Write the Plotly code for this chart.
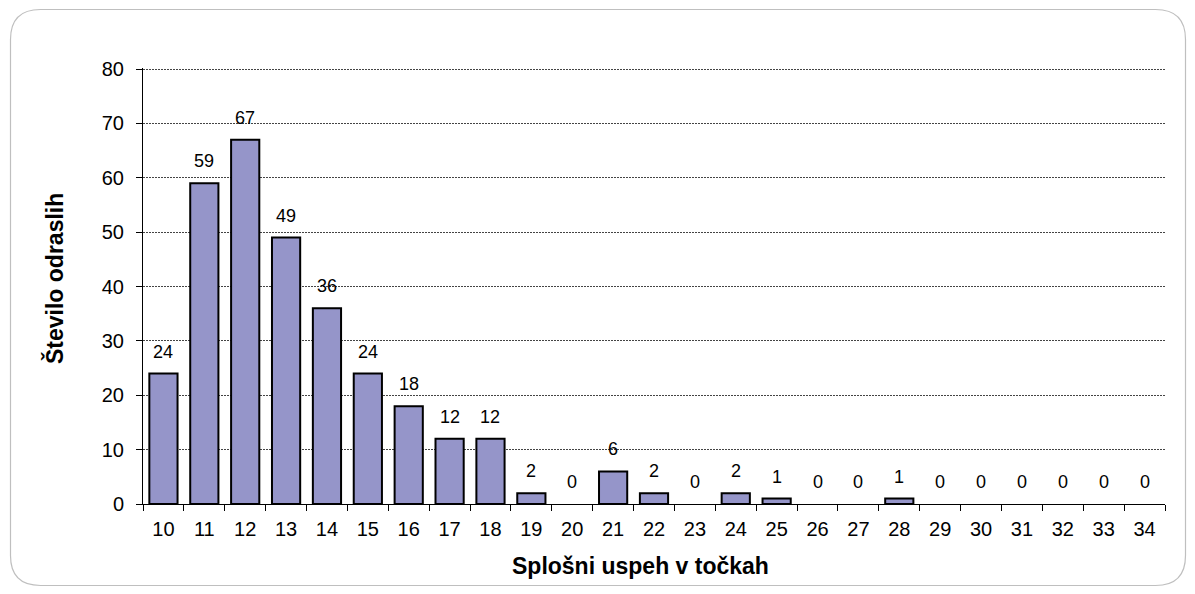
import plotly.graph_objects as go

categories = [str(v) for v in range(10, 35)]
counts = [24, 59, 67, 49, 36, 24, 18, 12, 12, 2, 0, 6, 2, 0, 2, 1, 0, 0, 1, 0, 0, 0, 0, 0, 0]
y_ticks = [0, 10, 20, 30, 40, 50, 60, 70, 80]

x_title = "Splošni uspeh v točkah"
y_title = "Število odraslih"

FONT = "Liberation Sans, Arial, sans-serif"
W, H = 1195, 594
ML, MR, MT, MB = 143, 30, 68, 90

fig = go.Figure()
fig.add_trace(go.Bar(
    x=categories, y=counts,
    marker=dict(color="#9595C9",
                line=dict(color="black", width=[2 if c > 0 else 0 for c in counts])),
    width=0.69,
    hoverinfo="x+y",
))

# data labels above bars (category index positions on the category axis)
for i, v in enumerate(counts):
    fig.add_annotation(x=i, y=v, text=str(v), showarrow=False,
                       xanchor="center", yanchor="bottom", yshift=10,
                       font=dict(family=FONT, size=18, color="black"))

pw, ph = W - ML - MR, H - MT - MB
def px(x):
    return (x - ML) / pw
def py(y):
    return (H - MB - y) / ph

# axis titles positioned as in the reference
fig.add_annotation(xref="paper", yref="paper", x=px(640), y=py(566), text=f"<b>{x_title}</b>",
                   showarrow=False, xanchor="center", yanchor="middle",
                   font=dict(family=FONT, size=23, color="black"))
fig.add_annotation(xref="paper", yref="paper", x=px(54), y=py(279), text=f"<b>{y_title}</b>",
                   showarrow=False, xanchor="center", yanchor="middle", textangle=-90,
                   font=dict(family=FONT, size=23, color="black"))

# rounded frame
x0, y0, x1, y1, r = 10.5, 9.5, 1185.5, 585.5, 30
path = (f"M {px(x0 + r)},{py(y0)} L {px(x1 - r)},{py(y0)} "
        f"Q {px(x1)},{py(y0)} {px(x1)},{py(y0 + r)} "
        f"L {px(x1)},{py(y1 - r)} Q {px(x1)},{py(y1)} {px(x1 - r)},{py(y1)} "
        f"L {px(x0 + r)},{py(y1)} Q {px(x0)},{py(y1)} {px(x0)},{py(y1 - r)} "
        f"L {px(x0)},{py(y0 + r)} Q {px(x0)},{py(y0)} {px(x0 + r)},{py(y0)} Z")

fig.update_layout(
    width=W, height=H,
    margin=dict(l=ML, r=MR, t=MT, b=MB),
    paper_bgcolor="white", plot_bgcolor="white",
    showlegend=False,
    font=dict(family=FONT, color="black"),
    shapes=[dict(type="path", xref="paper", yref="paper", layer="below",
                 path=path, line=dict(color="#BFBFBF", width=1.2))],
)

fig.update_xaxes(
    type="category",
    range=[-0.5, len(categories) - 0.5],
    showline=True, linecolor="black", linewidth=1,
    ticks="outside", tickson="boundaries", ticklen=6, tickcolor="black",
    tickfont=dict(family=FONT, size=20, color="black"),
    tickangle=0,
    ticklabelstandoff=7,
    showgrid=False,
)
fig.update_yaxes(
    range=[0, 80.2], tickvals=y_ticks,
    showline=True, linecolor="black", linewidth=1,
    ticks="outside", ticklen=6, tickcolor="black",
    tickfont=dict(family=FONT, size=20, color="black"),
    ticklabelstandoff=8,
    showgrid=True, gridcolor="#444444", gridwidth=1, griddash="2px,1px",
    zeroline=False,
)

fig.write_html("out.html", config={"displayModeBar": False},
               post_script="document.body.style.margin='0';")
